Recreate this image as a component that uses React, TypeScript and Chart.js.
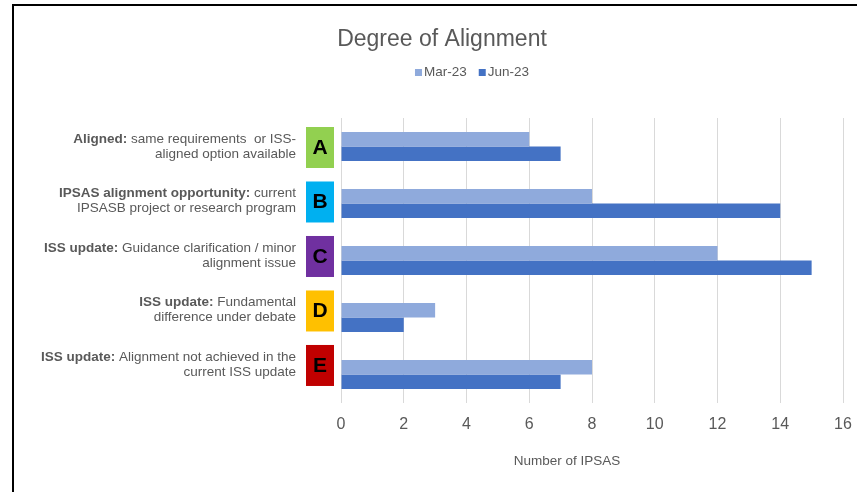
import React, { useEffect, useRef } from "react";
import { Chart, registerables } from "chart.js";

Chart.register(...registerables);

const TITLE = "Degree of Alignment";
const X_TITLE = "Number of IPSAS";
const CATEGORIES = ["A", "B", "C", "D", "E"];
const SERIES_NAMES = ["Mar-23", "Jun-23"];
const MAR_23 = [6, 8, 12, 3, 8];
const JUN_23 = [7, 14, 15, 2, 7];
const X_TICK_MIN = 0;
const X_TICK_MAX = 16;
const X_TICK_STEP = 2;

const LABEL_BOLD = [
  "Aligned:",
  "IPSAS alignment opportunity:",
  "ISS update:",
  "ISS update:",
  "ISS update:",
];
const LABEL_LINE1_REST = [
  " same requirements  or ISS-",
  " current",
  " Guidance clarification / minor",
  " Fundamental",
  " Alignment not achieved in the",
];
const LABEL_LINE2 = [
  "aligned option available",
  "IPSASB project or research program",
  "alignment issue",
  "difference under debate",
  "current ISS update",
];

const BOX_COLORS = ["#92d050", "#00b0f0", "#7030a0", "#ffc000", "#c00000"];
const SERIES_COLORS = ["#8faadc", "#4472c4"];
const TEXT = "#595959";
const FONT = '"Liberation Sans", Arial, sans-serif';

const overlayPlugin = {
  id: "overlay",
  afterDraw(chart: any) {
    const ctx = chart.ctx as CanvasRenderingContext2D;
    const y = chart.scales.y;
    ctx.save();

    // frame
    ctx.strokeStyle = "#000";
    ctx.lineWidth = 2;
    ctx.beginPath();
    ctx.moveTo(13, 600);
    ctx.lineTo(13, 5);
    ctx.lineTo(900, 5);
    ctx.stroke();

    // title
    ctx.fillStyle = TEXT;
    ctx.textBaseline = "middle";
    ctx.textAlign = "center";
    ctx.font = `23px ${FONT}`;
    ctx.fillText(TITLE, 442, 40);

    // legend
    ctx.font = `13.5px ${FONT}`;
    ctx.textAlign = "left";
    const boxW = 7;
    const gap = 2;
    const itemGap = 12;
    const widths = SERIES_NAMES.map((n) => boxW + gap + ctx.measureText(n).width);
    const total = widths.reduce((a, b) => a + b, 0) + itemGap * (SERIES_NAMES.length - 1);
    let lx = 472 - total / 2;
    chart.data.datasets.forEach((ds: any, i: number) => {
      ctx.fillStyle = ds.backgroundColor;
      ctx.fillRect(lx, 69, boxW, boxW);
      ctx.fillStyle = TEXT;
      ctx.fillText(ds.label, lx + boxW + gap, 72.5);
      lx += widths[i] + itemGap;
    });

    // x axis title
    ctx.font = `13.5px ${FONT}`;
    ctx.textAlign = "center";
    ctx.fillText(X_TITLE, 567, 461);

    // category annotations
    const pA = y.getPixelForValue(0);
    CATEGORIES.forEach((letter, i) => {
      const pi = y.getPixelForValue(i);
      const cy = pA + (pi - pA) * 0.956 + 1;
      // box
      ctx.fillStyle = BOX_COLORS[i];
      ctx.fillRect(306, cy - 20.5, 28, 41);
      ctx.fillStyle = "#000";
      ctx.font = `bold 21px ${FONT}`;
      ctx.textAlign = "center";
      ctx.fillText(letter, 320, cy + 0.5);

      // text
      const right = 296;
      const ty = cy - 1;
      ctx.textAlign = "left";
      ctx.font = `bold 13.5px ${FONT}`;
      const bw = ctx.measureText(LABEL_BOLD[i]).width;
      ctx.font = `13.5px ${FONT}`;
      const rw = ctx.measureText(LABEL_LINE1_REST[i]).width;
      const startX = right - bw - rw;
      ctx.fillStyle = TEXT;
      ctx.font = `bold 13.5px ${FONT}`;
      ctx.fillText(LABEL_BOLD[i], startX, ty - 7.5);
      ctx.font = `13.5px ${FONT}`;
      ctx.fillText(LABEL_LINE1_REST[i], startX + bw, ty - 7.5);
      ctx.textAlign = "right";
      ctx.fillText(LABEL_LINE2[i], right, ty + 7.5);
    });

    ctx.restore();
  },
};

export default function App() {
  const ref = useRef<HTMLCanvasElement | null>(null);

  useEffect(() => {
    if (!ref.current) return;
    const chart = new Chart(ref.current, {
      type: "bar",
      data: {
        labels: CATEGORIES,
        datasets: [
          {
            label: SERIES_NAMES[0],
            data: MAR_23,
            backgroundColor: SERIES_COLORS[0],
            categoryPercentage: 0.51,
            barPercentage: 1,
          },
          {
            label: SERIES_NAMES[1],
            data: JUN_23,
            backgroundColor: SERIES_COLORS[1],
            categoryPercentage: 0.51,
            barPercentage: 1,
          },
        ],
      },
      options: {
        indexAxis: "y",
        responsive: false,
        animation: false,
        devicePixelRatio: 1,
        layout: { padding: { left: 341, right: 14, top: 118, bottom: 59 } },
        plugins: {
          legend: { display: false },
          title: { display: false },
          tooltip: { enabled: false },
        },
        scales: {
          x: {
            min: X_TICK_MIN,
            max: X_TICK_MAX,
            ticks: {
              stepSize: X_TICK_STEP,
              color: TEXT,
              font: { size: 16, family: FONT },
              padding: 0,
            },
            grid: {
              color: "#d9d9d9",
              drawTicks: true,
              tickLength: 12,
              tickColor: "rgba(0,0,0,0)",
            },
            border: { display: false },
            afterFit: (s: any) => {
              s.height = 30;
            },
          },
          y: {
            display: false,
          },
        },
      },
      plugins: [overlayPlugin],
    });
    return () => chart.destroy();
  }, []);

  return (
    <div style={{ position: "fixed", left: 0, top: 0, width: 857, height: 492, background: "#fff" }}>
      <canvas ref={ref} width={857} height={492} style={{ display: "block" }} />
    </div>
  );
}
